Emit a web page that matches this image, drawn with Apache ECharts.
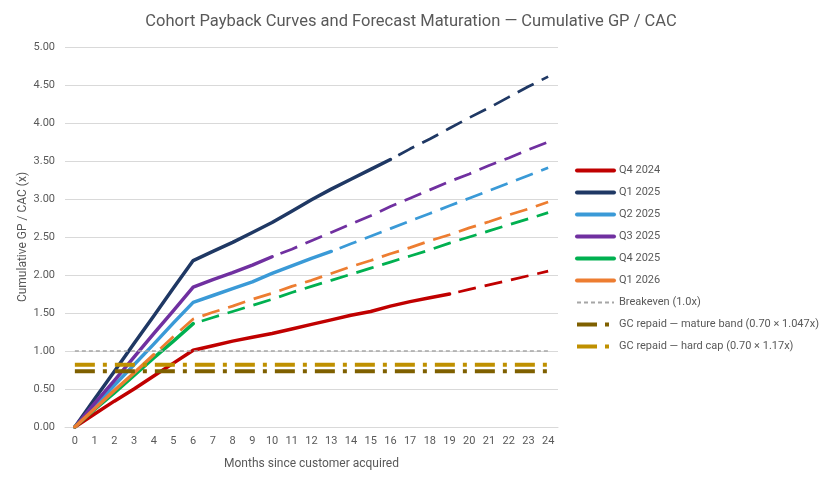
<!DOCTYPE html>
<html>
<head>
<meta charset="utf-8">
<title>Cohort Payback Curves</title>
<script src="https://cdn.jsdelivr.net/npm/echarts@6/dist/echarts.min.js"></script>
<style>
html, body { margin: 0; padding: 0; background: #fff; }
#chart { width: 822px; height: 482px; }
</style>
</head>
<body>
<div id="chart"></div>
<script>
// months since acquisition (category axis)
var months = ['0','1','2','3','4','5','6','7','8','9','10','11','12','13','14','15','16','17','18','19','20','21','22','23','24'];

// actuals start at month 0, forecast picks up at the last actual month
var q424Actual   = [0, 0.17, 0.34, 0.50, 0.67, 0.84, 1.01, 1.07, 1.13, 1.18, 1.23, 1.29, 1.35, 1.41, 1.47, 1.52, 1.59, 1.65, 1.70, 1.75];
var q424Forecast = [1.75, 1.81, 1.87, 1.93, 1.99, 2.05];

var q125Actual   = [0, 0.37, 0.73, 1.10, 1.46, 1.83, 2.19, 2.31, 2.43, 2.56, 2.69, 2.84, 2.99, 3.13, 3.26, 3.39, 3.52];
var q125Forecast = [3.52, 3.66, 3.79, 3.93, 4.07, 4.20, 4.34, 4.48, 4.61];

var q225Actual   = [0, 0.27, 0.55, 0.82, 1.09, 1.37, 1.64, 1.73, 1.82, 1.91, 2.02, 2.12, 2.22, 2.31];
var q225Forecast = [2.31, 2.41, 2.51, 2.61, 2.71, 2.81, 2.91, 3.01, 3.11, 3.21, 3.31, 3.41];

var q325Actual   = [0, 0.31, 0.61, 0.92, 1.23, 1.53, 1.84, 1.94, 2.03, 2.13, 2.24];
var q325Forecast = [2.24, 2.34, 2.45, 2.56, 2.67, 2.78, 2.90, 3.01, 3.12, 3.23, 3.33, 3.44, 3.54, 3.65, 3.75];

var q425Actual   = [0, 0.23, 0.45, 0.68, 0.91, 1.13, 1.36];
var q425Forecast = [1.36, 1.44, 1.52, 1.60, 1.68, 1.77, 1.85, 1.93, 2.01, 2.09, 2.17, 2.25, 2.33, 2.42, 2.50, 2.58, 2.66, 2.74, 2.82];

var q126Actual   = [0, 0.24, 0.48, 0.71, 0.95];
var q126Forecast = [0.95, 1.19, 1.42, 1.51, 1.59, 1.68, 1.76, 1.85, 1.93, 2.02, 2.11, 2.19, 2.28, 2.36, 2.45, 2.53, 2.62, 2.70, 2.79, 2.87, 2.96];

var breakeven = 1.0;
var gcMature = 0.70 * 1.047;
var gcHardCap = 0.70 * 1.17;

var yTicks = [0, 0.5, 1, 1.5, 2, 2.5, 3, 3.5, 4, 4.5, 5];

var grey = '#595959';
var font = 'Roboto, "Noto Sans", sans-serif';

// forecast values sit after a run of empty months
function pad(values, start) {
	var out = [];
	for (var i = 0; i < start; i++) out.push(null);
	return out.concat(values);
}

function actual(name, color, data) {
	return {
		name: name, type: 'line', data: data, symbol: 'none', z: 3,
		itemStyle: { color: color },
		lineStyle: { color: color, width: 3.5, cap: 'round', join: 'round' }
	};
}

function forecast(name, color, data, start) {
	return {
		name: name, type: 'line', data: pad(data, start), symbol: 'none', z: 3,
		itemStyle: { color: color },
		lineStyle: { color: color, width: 2.75, type: [18, 9], dashOffset: 18 }
	};
}

function flat(name, color, value, width, dash) {
	return {
		name: name, type: 'line', symbol: 'none', z: 4,
		data: months.map(function () { return value; }),
		itemStyle: { color: color },
		lineStyle: { color: color, width: width, type: dash }
	};
}

var cohorts = [
	['Q4 2024', '#C00000', q424Actual, q424Forecast],
	['Q1 2025', '#1F3864', q125Actual, q125Forecast],
	['Q2 2025', '#3A9AD7', q225Actual, q225Forecast],
	['Q3 2025', '#7030A0', q325Actual, q325Forecast],
	['Q4 2025', '#00B050', q425Actual, q425Forecast],
	['Q1 2026', '#ED7D31', q126Actual, q126Forecast]
];

var series = [];
cohorts.forEach(function (c) { series.push(actual(c[0], c[1], c[2])); });
cohorts.forEach(function (c) { series.push(forecast(c[0], c[1], c[3], c[2].length - 1)); });
series.push(flat('Breakeven (1.0x)', '#A6A6A6', breakeven, 1.5, [4, 3]));
series.push(flat('GC repaid — mature band (0.70 × 1.047x)', '#7F6000', gcMature, 4, [20, 8, 4, 8]));
series.push(flat('GC repaid — hard cap (0.70 × 1.17x)', '#BF9000', gcHardCap, 4, [20, 8, 4, 8]));

// legend entries: thick icons for cohorts and GC lines, thin one for breakeven
var legendData = cohorts.map(function (c) {
	return { name: c[0], lineStyle: { width: 4, cap: 'round' } };
}).concat([
	{ name: 'Breakeven (1.0x)' },
	{ name: 'GC repaid — mature band (0.70 × 1.047x)', lineStyle: { width: 4 } },
	{ name: 'GC repaid — hard cap (0.70 × 1.17x)', lineStyle: { width: 4 } }
]);

var chart = echarts.init(document.getElementById('chart'));
var option = {
	animation: false,
	backgroundColor: '#fff',
	textStyle: { fontFamily: font },
	title: {
		text: 'Cohort Payback Curves and Forecast Maturation — Cumulative GP / CAC',
		left: 'center',
		top: 8,
		textStyle: { color: grey, fontSize: 16.5, fontWeight: 'normal', fontFamily: font }
	},
	legend: {
		data: legendData,
		orient: 'vertical',
		left: 575,
		top: 165,
		padding: 0,
		itemWidth: 37,
		itemHeight: 12,
		itemGap: 11,
		itemStyle: { opacity: 0 },
		textStyle: { color: grey, fontSize: 11, fontFamily: font }
	},
	grid: { left: 65, right: 264, top: 47, bottom: 55 },
	xAxis: {
		type: 'category',
		data: months,
		boundaryGap: true,
		name: 'Months since customer acquired',
		nameLocation: 'middle',
		nameGap: 31,
		nameMoveOverlap: false,
		nameTextStyle: { color: grey, fontSize: 12 },
		axisLine: { lineStyle: { color: '#D9D9D9' } },
		axisTick: { show: false },
		axisLabel: { color: grey, fontSize: 11, margin: 9, interval: 0 }
	},
	yAxis: {
		type: 'value',
		min: yTicks[0],
		max: yTicks[yTicks.length - 1],
		interval: yTicks[1] - yTicks[0],
		name: 'Cumulative GP / CAC (x)',
		nameLocation: 'middle',
		nameGap: 36,
		nameMoveOverlap: false,
		nameTextStyle: { color: grey, fontSize: 12 },
		axisLine: { show: false },
		axisTick: { show: false },
		axisLabel: { color: grey, fontSize: 11, margin: 10, formatter: function (v) { return v.toFixed(2); } },
		splitLine: { lineStyle: { color: '#D9D9D9', width: 1 } }
	},
	series: series
};
chart.setOption(option);
</script>
</body>
</html>
